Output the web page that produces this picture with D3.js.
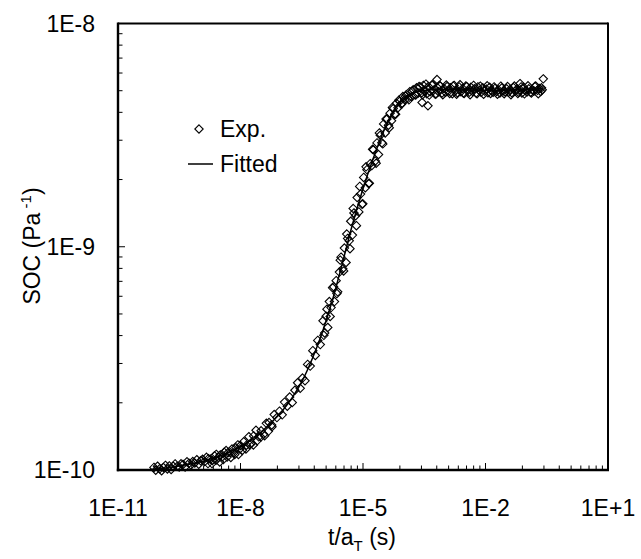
<!DOCTYPE html>
<html>
<head>
<meta charset="utf-8">
<script src="https://cdn.jsdelivr.net/npm/d3@7"></script>
<style>
  body { margin: 0; background: #fff; }
  svg { display: block; }
  text { font-family: "Liberation Sans", Arial, Helvetica, sans-serif; fill: #000; }
</style>
</head>
<body>
<svg id="chart" width="641" height="559"></svg>
<script>
// Creep compliance master curve: shifted time t/aT (s) vs SOC (1/Pa)

// Fitted model curve
const fitTime = [7.59e-11, 1.778e-10, 3.162e-10, 5.623e-10, 1e-9, 1.778e-9, 3.162e-9, 5.623e-9,
  1e-8, 1.778e-8, 3.162e-8, 5.623e-8, 1e-7, 1.778e-7, 3.162e-7, 5.623e-7,
  1e-6, 1.778e-6, 3.162e-6, 5.623e-6, 1e-5, 1.778e-5, 3.162e-5, 5.623e-5,
  1e-4, 1.778e-4, 3.162e-4, 1e-3, 1e-2, 1e-1, 0.2512];
const fitSOC = [1.007e-10, 1.023e-10, 1.042e-10, 1.062e-10, 1.086e-10, 1.117e-10, 1.156e-10, 1.208e-10,
  1.274e-10, 1.361e-10, 1.479e-10, 1.629e-10, 1.820e-10, 2.089e-10, 2.483e-10, 3.126e-10,
  4.121e-10, 5.754e-10, 8.511e-10, 1.274e-9, 1.820e-9, 2.483e-9, 3.273e-9, 4.074e-9,
  4.624e-9, 4.898e-9, 5.012e-9, 5.070e-9, 5.012e-9, 5.070e-9, 5.105e-9];

// Experimental points
const expTime = [
  // glassy region
  7.6e-11, 8.4e-11, 9.3e-11, 1.05e-10, 1.17e-10, 1.3e-10, 1.45e-10, 1.62e-10, 1.8e-10, 2.0e-10,
  2.25e-10, 2.5e-10, 2.8e-10, 3.15e-10, 3.5e-10, 3.9e-10, 4.4e-10, 4.9e-10, 5.5e-10, 6.1e-10,
  6.8e-10, 7.6e-10, 8.5e-10, 9.5e-10, 1.06e-9, 1.18e-9, 1.32e-9, 1.47e-9, 1.64e-9, 1.83e-9,
  2.05e-9, 2.3e-9, 2.55e-9, 2.85e-9, 3.2e-9, 3.55e-9, 4.0e-9, 4.45e-9, 5.0e-9, 5.6e-9,
  6.2e-9, 6.9e-9, 7.7e-9, 8.6e-9, 9.6e-9,
  1.6e-9, 2.0e-9, 2.5e-9, 3.1e-9, 3.8e-9, 4.7e-9, 5.8e-9, 7.2e-9, 8.9e-9, 1.1e-8,
  1.36e-8, 1.68e-8, 2.07e-8, 2.55e-8, 3.15e-8, 3.9e-8, 4.8e-8, 5.9e-8,
  // onset of transition
  1.0e-8, 1.2e-8, 1.4e-8, 1.6e-8, 1.8e-8, 2.1e-8, 2.4e-8, 2.8e-8, 3.2e-8, 3.7e-8,
  4.3e-8, 5.0e-8, 5.8e-8, 6.7e-8, 7.8e-8, 9.0e-8, 1.05e-7, 1.2e-7, 1.4e-7, 1.6e-7,
  1.85e-7, 2.15e-7, 2.5e-7, 2.9e-7, 3.3e-7, 3.8e-7, 4.4e-7, 5.1e-7, 5.9e-7, 6.8e-7,
  7.8e-7, 9.0e-7,
  // transition
  1.05e-6, 1.15e-6, 1.25e-6, 1.37e-6, 1.5e-6, 1.65e-6, 1.8e-6, 2.0e-6, 2.2e-6, 2.4e-6,
  2.65e-6, 2.9e-6, 3.2e-6, 3.5e-6, 3.85e-6, 4.2e-6, 4.6e-6, 5.0e-6, 5.5e-6, 6.0e-6,
  6.6e-6, 7.2e-6, 7.9e-6, 8.7e-6, 9.5e-6, 1.04e-5, 1.14e-5, 1.25e-5, 1.37e-5, 1.5e-5,
  1.65e-5, 1.8e-5, 2.0e-5, 2.2e-5, 2.4e-5, 2.65e-5, 2.9e-5, 3.2e-5, 3.5e-5, 3.85e-5,
  4.2e-5, 4.6e-5, 5.0e-5, 5.5e-5, 6.0e-5, 6.6e-5, 7.2e-5, 7.9e-5, 8.7e-5, 9.5e-5,
  1.1e-6, 1.31e-6, 1.57e-6, 1.9e-6, 2.3e-6, 2.77e-6, 3.35e-6, 4.0e-6, 4.8e-6, 5.75e-6,
  6.9e-6, 8.3e-6, 9.9e-6, 1.19e-5, 1.43e-5, 1.72e-5, 2.1e-5, 2.52e-5, 3.05e-5, 3.67e-5,
  4.4e-5, 5.25e-5, 6.3e-5, 7.55e-5, 9.1e-5,
  // rubbery plateau
  1.05e-4, 1.15e-4, 1.27e-4, 1.4e-4, 1.54e-4, 1.7e-4, 1.87e-4, 2.05e-4, 2.25e-4, 2.5e-4,
  2.75e-4, 3.0e-4, 3.3e-4, 3.65e-4, 4.0e-4, 4.4e-4, 4.85e-4, 5.35e-4, 5.9e-4, 6.5e-4,
  7.1e-4, 7.8e-4, 8.6e-4, 9.5e-4,
  1.05e-3, 1.15e-3, 1.27e-3, 1.4e-3, 1.54e-3, 1.7e-3, 1.87e-3, 2.05e-3, 2.25e-3, 2.5e-3,
  2.75e-3, 3.0e-3, 3.3e-3, 3.65e-3, 4.0e-3, 4.4e-3, 4.85e-3, 5.35e-3, 5.9e-3, 6.5e-3,
  7.1e-3, 7.8e-3, 8.6e-3, 9.5e-3,
  1.05e-2, 1.15e-2, 1.27e-2, 1.4e-2, 1.54e-2, 1.7e-2, 1.87e-2, 2.05e-2, 2.25e-2, 2.5e-2,
  2.75e-2, 3.0e-2, 3.3e-2, 3.65e-2, 4.0e-2, 4.4e-2, 4.85e-2, 5.35e-2, 5.9e-2, 6.5e-2,
  7.1e-2, 7.8e-2, 8.6e-2, 9.5e-2,
  0.105, 0.115, 0.127, 0.14, 0.154, 0.17, 0.187, 0.205, 0.225, 0.245,
  1.1e-4, 1.33e-4, 1.62e-4, 1.96e-4, 2.37e-4, 2.87e-4, 3.47e-4, 4.2e-4, 5.1e-4, 6.2e-4,
  7.45e-4, 9.0e-4, 1.1e-3, 1.33e-3, 1.62e-3, 1.96e-3, 2.37e-3, 2.87e-3, 3.47e-3, 4.2e-3,
  5.1e-3, 6.2e-3, 7.45e-3, 9.0e-3, 1.1e-2, 1.33e-2, 1.62e-2, 1.96e-2, 2.37e-2, 2.87e-2,
  3.47e-2, 4.2e-2, 5.1e-2, 6.2e-2, 7.45e-2, 9.0e-2, 0.11, 0.133, 0.162, 0.196, 0.235,
  2.8e-4, 3.9e-4, 6.5e-4, 7.0e-2, 0.26
];
const expSOC = [
  1.027e-10, 0.998e-10, 1.040e-10, 1.012e-10, 0.993e-10, 1.025e-10, 1.049e-10, 1.011e-10, 1.043e-10, 1.005e-10,
  1.040e-10, 1.065e-10, 1.038e-10, 1.032e-10, 1.066e-10, 1.059e-10, 1.032e-10, 1.089e-10, 1.072e-10, 1.054e-10,
  1.091e-10, 1.075e-10, 1.112e-10, 1.062e-10, 1.100e-10, 1.117e-10, 1.090e-10, 1.140e-10, 1.124e-10, 1.118e-10,
  1.103e-10, 1.157e-10, 1.175e-10, 1.138e-10, 1.169e-10, 1.143e-10, 1.200e-10, 1.222e-10, 1.197e-10, 1.196e-10,
  1.242e-10, 1.194e-10, 1.257e-10, 1.296e-10, 1.243e-10,
  1.068e-10, 1.068e-10, 1.106e-10, 1.086e-10, 1.113e-10, 1.143e-10, 1.138e-10, 1.174e-10, 1.173e-10, 1.224e-10,
  1.242e-10, 1.298e-10, 1.295e-10, 1.351e-10, 1.405e-10, 1.424e-10, 1.490e-10, 1.562e-10,
  1.287e-10, 1.339e-10, 1.292e-10, 1.410e-10, 1.309e-10, 1.421e-10, 1.507e-10, 1.408e-10, 1.498e-10, 1.445e-10,
  1.618e-10, 1.632e-10, 1.592e-10, 1.771e-10, 1.717e-10, 1.835e-10, 1.766e-10, 2.014e-10, 1.931e-10, 2.122e-10,
  2.005e-10, 2.276e-10, 2.459e-10, 2.323e-10, 2.581e-10, 2.510e-10, 2.972e-10, 2.920e-10, 3.424e-10, 3.259e-10,
  3.806e-10, 3.646e-10,
  4.66e-10, 4.11e-10, 4.88e-10, 4.35e-10, 5.68e-10, 5.34e-10, 6.55e-10, 5.68e-10, 7.05e-10, 6.28e-10,
  7.70e-10, 8.98e-10, 7.97e-10, 9.87e-10, 8.50e-10, 1.090e-9, 1.063e-9, 1.301e-9, 1.128e-9, 1.417e-9,
  1.378e-9, 1.661e-9, 1.432e-9, 1.721e-9, 1.551e-9, 2.044e-9, 1.837e-9, 2.215e-9, 1.921e-9, 2.356e-9,
  2.311e-9, 2.720e-9, 2.420e-9, 2.919e-9, 2.589e-9, 3.159e-9, 2.921e-9, 3.551e-9, 3.234e-9, 3.735e-9,
  3.501e-9, 3.965e-9, 3.666e-9, 4.158e-9, 3.924e-9, 4.389e-9, 4.195e-9, 4.483e-9, 4.352e-9, 4.707e-9,
  4.01e-10, 5.25e-10, 4.87e-10, 6.62e-10, 6.17e-10, 8.71e-10, 7.79e-10, 1.140e-9, 9.80e-10, 1.484e-9,
  1.243e-9, 1.863e-9, 1.557e-9, 2.280e-9, 1.923e-9, 2.733e-9, 2.367e-9, 3.234e-9, 2.889e-9, 3.737e-9,
  3.413e-9, 4.208e-9, 3.920e-9, 4.534e-9, 4.394e-9,
  4.55e-9, 4.80e-9, 4.62e-9, 4.95e-9, 4.70e-9, 5.05e-9, 4.80e-9, 5.15e-9, 4.88e-9, 5.20e-9,
  4.90e-9, 5.28e-9, 5.00e-9, 4.85e-9, 5.22e-9, 4.95e-9, 5.30e-9, 5.02e-9, 4.82e-9, 5.18e-9,
  4.95e-9, 5.25e-9, 4.88e-9, 5.12e-9,
  4.92e-9, 5.22e-9, 4.98e-9, 5.15e-9, 4.85e-9, 5.28e-9, 5.02e-9, 4.90e-9, 5.20e-9, 4.95e-9,
  5.12e-9, 4.86e-9, 5.25e-9, 5.00e-9, 4.92e-9, 5.18e-9, 4.96e-9, 5.10e-9, 4.88e-9, 5.20e-9,
  5.02e-9, 4.92e-9, 5.15e-9, 4.98e-9,
  5.08e-9, 4.90e-9, 5.18e-9, 5.00e-9, 4.92e-9, 5.12e-9, 4.96e-9, 5.05e-9, 4.88e-9, 5.14e-9,
  5.00e-9, 4.94e-9, 5.10e-9, 4.92e-9, 5.06e-9, 4.90e-9, 5.16e-9, 4.98e-9, 5.08e-9, 4.92e-9,
  5.04e-9, 4.88e-9, 5.18e-9, 5.00e-9,
  4.94e-9, 5.10e-9, 4.92e-9, 5.06e-9, 4.98e-9, 5.25e-9, 5.02e-9, 5.12e-9, 4.96e-9, 5.05e-9,
  4.72e-9, 4.55e-9, 4.98e-9, 4.78e-9, 5.22e-9, 4.80e-9, 5.35e-9, 4.78e-9, 5.32e-9, 4.84e-9,
  5.28e-9, 4.80e-9, 5.30e-9, 4.86e-9, 5.25e-9, 4.82e-9, 5.32e-9, 4.88e-9, 5.22e-9, 4.80e-9,
  5.28e-9, 4.85e-9, 5.24e-9, 4.82e-9, 5.26e-9, 4.86e-9, 5.20e-9, 4.82e-9, 5.24e-9, 4.85e-9,
  5.22e-9, 4.80e-9, 5.25e-9, 4.86e-9, 5.20e-9, 4.84e-9, 5.26e-9, 4.88e-9, 5.22e-9, 4.85e-9, 5.15e-9,
  4.43e-9, 4.28e-9, 5.61e-9, 5.38e-9, 5.65e-9
];

// Axis ticks
const xTickValues = [1e-11, 1e-8, 1e-5, 1e-2, 1e1];
const xTickLabels = ["1E-11", "1E-8", "1E-5", "1E-2", "1E+1"];
const yTickValues = [1e-10, 1e-9, 1e-8];
const yTickLabels = ["1E-10", "1E-9", "1E-8"];

const legendLabels = ["Exp.", "Fitted"];

const W = 641, H = 559;
const plot = { left: 118, right: 608, top: 23.5, bottom: 470 };

const x = d3.scaleLog().domain([1e-11, 1e1]).range([plot.left, plot.right]);
const y = d3.scaleLog().domain([1e-10, 1e-8]).range([plot.bottom, plot.top]);

const svg = d3.select("#chart");
svg.append("rect").attr("width", W).attr("height", H).attr("fill", "#fff");

// Minor ticks: x major step spans three decades, subdivided like a base-1000 log axis
const xMinor = [];
for (let i = 0; i < xTickValues.length - 1; i++) {
  for (let k = 2; k <= 9; k++) xMinor.push(xTickValues[i] * k * k * k);
}
const yMinor = [];
for (let i = 0; i < yTickValues.length - 1; i++) {
  for (let k = 2; k <= 9; k++) yMinor.push(yTickValues[i] * k);
}

const ticks = svg.append("g").attr("stroke", "#000").attr("stroke-width", 1);
ticks.selectAll("line.xmin").data(xMinor).join("line")
  .attr("x1", d => x(d)).attr("x2", d => x(d))
  .attr("y1", plot.bottom).attr("y2", plot.bottom - 4.5);
ticks.selectAll("line.xmaj").data(xTickValues).join("line")
  .attr("x1", d => x(d)).attr("x2", d => x(d))
  .attr("y1", plot.bottom).attr("y2", plot.bottom - 7);
ticks.selectAll("line.ymin").data(yMinor).join("line")
  .attr("y1", d => y(d)).attr("y2", d => y(d))
  .attr("x1", plot.left).attr("x2", plot.left + 4.5);
ticks.selectAll("line.ymaj").data(yTickValues).join("line")
  .attr("y1", d => y(d)).attr("y2", d => y(d))
  .attr("x1", plot.left).attr("x2", plot.left + 7);

// Tick labels
svg.append("g").selectAll("text").data(xTickValues).join("text")
  .attr("x", d => x(d)).attr("y", 516)
  .attr("text-anchor", "middle").attr("font-size", 23)
  .text((d, i) => xTickLabels[i]);
svg.append("g").selectAll("text").data(yTickValues).join("text")
  .attr("x", 95).attr("y", d => y(d)).attr("dy", "0.35em")
  .attr("text-anchor", "end").attr("font-size", 23)
  .text((d, i) => yTickLabels[i]);

// Experimental markers (open diamonds)
const r = 4.2;
const diamond = `M0,${-r}L${r},0L0,${r}L${-r},0Z`;
svg.append("g").selectAll("path").data(d3.range(expTime.length)).join("path")
  .attr("d", diamond)
  .attr("transform", i => `translate(${x(expTime[i])},${y(expSOC[i])})`)
  .attr("fill", "none").attr("stroke", "#000").attr("stroke-width", 1.1);

// Fitted curve
const line = d3.line().x(i => x(fitTime[i])).y(i => y(fitSOC[i])).curve(d3.curveMonotoneX);
svg.append("path").datum(d3.range(fitTime.length)).attr("d", line)
  .attr("fill", "none").attr("stroke", "#000").attr("stroke-width", 1.5);

// Frame
const frame = svg.append("g").attr("stroke", "#000").attr("fill", "none");
frame.append("line").attr("x1", plot.left).attr("x2", plot.right).attr("y1", plot.top).attr("y2", plot.top).attr("stroke-width", 2);
frame.append("line").attr("x1", plot.right).attr("x2", plot.right).attr("y1", plot.top - 1).attr("y2", plot.bottom + 1).attr("stroke-width", 2);
frame.append("line").attr("x1", plot.left).attr("x2", plot.left).attr("y1", plot.top - 1).attr("y2", plot.bottom + 1.2).attr("stroke-width", 2.4);
frame.append("line").attr("x1", plot.left - 1.2).attr("x2", plot.right + 1).attr("y1", plot.bottom).attr("y2", plot.bottom).attr("stroke-width", 2.4);

// Axis titles
svg.append("text").attr("x", 362).attr("y", 545).attr("text-anchor", "middle").attr("font-size", 23)
  .call(t => {
    t.append("tspan").text("t/a");
    t.append("tspan").attr("dy", 6).attr("font-size", 15).text("T");
    t.append("tspan").attr("dy", -6).text(" (s)");
  });
svg.append("text").attr("transform", "translate(40,246) rotate(-90)").attr("text-anchor", "middle").attr("font-size", 23)
  .call(t => {
    t.append("tspan").text("SOC (Pa");
    t.append("tspan").attr("dy", -9).attr("font-size", 15).text(" -1");
    t.append("tspan").attr("dy", 9).text(")");
  });

// Legend
const lg = svg.append("g");
lg.append("path").attr("d", diamond).attr("transform", "translate(199,129)")
  .attr("fill", "none").attr("stroke", "#000").attr("stroke-width", 1.1);
lg.append("text").attr("x", 220).attr("y", 137).attr("font-size", 23).text(legendLabels[0]);
lg.append("line").attr("x1", 188).attr("x2", 213).attr("y1", 164).attr("y2", 164)
  .attr("stroke", "#000").attr("stroke-width", 1.5);
lg.append("text").attr("x", 220).attr("y", 172).attr("font-size", 23).text(legendLabels[1]);
</script>
</body>
</html>
